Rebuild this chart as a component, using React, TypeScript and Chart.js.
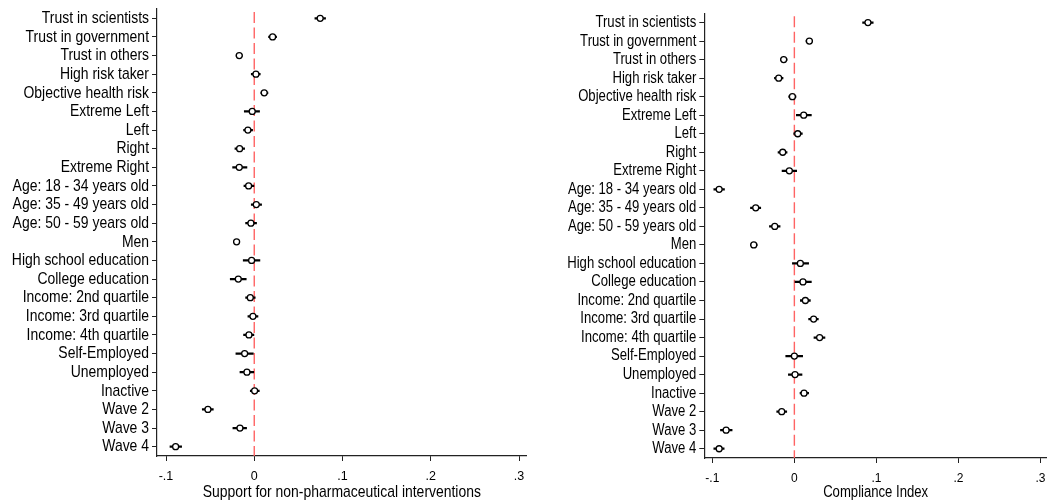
import React, { useEffect, useRef } from "react";
import { Chart, registerables } from "chart.js";

Chart.register(...registerables);

const categories = [
  "Trust in scientists",
  "Trust in government",
  "Trust in others",
  "High risk taker",
  "Objective health risk",
  "Extreme Left",
  "Left",
  "Right",
  "Extreme Right",
  "Age: 18 - 34 years old",
  "Age: 35 - 49 years old",
  "Age: 50 - 59 years old",
  "Men",
  "High school education",
  "College education",
  "Income: 2nd quartile",
  "Income: 3rd quartile",
  "Income: 4th quartile",
  "Self-Employed",
  "Unemployed",
  "Inactive",
  "Wave 2",
  "Wave 3",
  "Wave 4",
];

// Support for non-pharmaceutical interventions
const npiEst = [0.0747, 0.0208, -0.017, 0.0019, 0.0113, -0.0023, -0.0072, -0.0166, -0.017, -0.0064, 0.0023, -0.0038, -0.02, -0.003, -0.0181, -0.0045, -0.0015, -0.006, -0.0109, -0.0083, 0.0004, -0.0525, -0.0162, -0.0891];
const npiLo = [0.0687, 0.0162, -0.0205, -0.0034, 0.0075, -0.0113, -0.0121, -0.0219, -0.0245, -0.0117, -0.0034, -0.0098, -0.0235, -0.0125, -0.0272, -0.0098, -0.0072, -0.0121, -0.0208, -0.0162, -0.0045, -0.0589, -0.0242, -0.0955];
const npiHi = [0.0808, 0.0253, -0.0135, 0.0068, 0.0155, 0.006, -0.0019, -0.0109, -0.0083, -0.0004, 0.0083, 0.0026, -0.0165, 0.0064, -0.0091, 0.0011, 0.0042, -0.0004, -0.0011, 0.0, 0.0057, -0.0464, -0.0087, -0.0823];

// Compliance Index
const compEst = [0.0897, 0.0183, -0.013, -0.0191, -0.0024, 0.0114, 0.0041, -0.0142, -0.0061, -0.0917, -0.0471, -0.0239, -0.0495, 0.0073, 0.0105, 0.0134, 0.0235, 0.0308, 0.0, 0.0008, 0.0118, -0.0154, -0.0832, -0.0917];
const compLo = [0.0832, 0.0142, -0.017, -0.0243, -0.0069, 0.0024, -0.0008, -0.0199, -0.015, -0.0982, -0.0535, -0.0304, -0.0535, -0.0024, 0.0008, 0.0073, 0.0174, 0.0239, -0.0105, -0.0073, 0.0069, -0.0215, -0.0901, -0.0982];
const compHi = [0.0961, 0.0223, -0.0089, -0.0138, 0.002, 0.0207, 0.0097, -0.0089, 0.0028, -0.0852, -0.041, -0.0174, -0.0454, 0.0174, 0.0207, 0.0195, 0.0292, 0.0373, 0.0101, 0.0093, 0.0174, -0.0093, -0.0759, -0.0856];

const xTickValues = [-0.1, 0, 0.1, 0.2, 0.3];
const xTickLabels = ["-.1", "0", ".1", ".2", ".3"];

const FONT = "'Liberation Sans', Arial, sans-serif";
const NARROW = 0.82;

const zeroLine = {
  id: "zeroLine",
  beforeDatasetsDraw(chart: any) {
    const x = chart.scales.x;
    const area = chart.chartArea;
    const px = x.getPixelForValue(0);
    const ctx = chart.ctx;
    ctx.save();
    ctx.strokeStyle = "#ff6464";
    ctx.lineWidth = 1.4;
    ctx.setLineDash([11, 4.5]);
    ctx.beginPath();
    ctx.moveTo(px, area.top + 3);
    ctx.lineTo(px, area.bottom);
    ctx.stroke();
    ctx.restore();
  },
};

type PanelProps = {
  est: number[];
  lo: number[];
  hi: number[];
  title: string;
  left: number;
  width: number;
  padTop: number;
  padRight: number;
  yWidth: number;
  xHeight: number;
  labelSize: number;
  tickSize: number;
  titleSize: number;
  titleY: number;
  xMin: number;
  xMax: number;
};

function Panel(p: PanelProps) {
  const ref = useRef<HTMLCanvasElement | null>(null);
  useEffect(() => {
    if (!ref.current) return;
    const narrowText = {
      id: "narrowText",
      afterDraw(chart: any) {
        const ctx = chart.ctx;
        const ys = chart.scales.y;
        const area = chart.chartArea;
        ctx.save();
        ctx.fillStyle = "#000";
        ctx.textAlign = "right";
        ctx.textBaseline = "middle";
        ctx.font = `${p.labelSize}px ${FONT}`;
        const xr = ys.right - 5 - 3;
        const labels = chart.data.labels as string[];
        labels.forEach((lab, i) => {
          const y = ys.getPixelForTick(i);
          ctx.save();
          ctx.translate(xr, y);
          ctx.scale(NARROW, 1);
          ctx.fillText(lab, 0, 0);
          ctx.restore();
        });
        ctx.font = `${p.titleSize}px ${FONT}`;
        ctx.textAlign = "center";
        ctx.save();
        ctx.translate((area.left + area.right) / 2, p.titleY);
        ctx.scale(NARROW, 1);
        ctx.fillText(p.title, 0, 0);
        ctx.restore();
        ctx.restore();
      },
    };
    const chart = new Chart(ref.current, {
      type: "bar",
      data: {
        labels: categories,
        datasets: [
          {
            type: "bar",
            data: p.lo.map((l, i) => [l, p.hi[i]]) as any,
            backgroundColor: "#000",
            borderWidth: 0,
            barThickness: 1.6,
            grouped: false,
            order: 2,
          } as any,
          {
            type: "line",
            indexAxis: "y",
            data: p.est,
            showLine: false,
            pointStyle: "circle",
            pointRadius: 3,
            pointBorderWidth: 1.3,
            pointBorderColor: "#000",
            pointBackgroundColor: "#fff",
            borderColor: "#000",
            backgroundColor: "#fff",
            order: 1,
          } as any,
        ],
      },
      options: {
        indexAxis: "y",
        animation: false,
        responsive: false,
        maintainAspectRatio: false,
        layout: { padding: { top: p.padTop, right: p.padRight, left: 0, bottom: 0 } },
        plugins: { legend: { display: false }, tooltip: { enabled: false } },
        scales: {
          x: {
            type: "linear",
            min: p.xMin,
            max: p.xMax,
            afterBuildTicks: (s: any) => {
              s.ticks = xTickValues.map((v) => ({ value: v }));
            },
            afterFit: (s: any) => {
              s.height = p.xHeight;
              s.paddingLeft = 0;
              s.paddingRight = 0;
            },
            ticks: {
              callback: (_v: any, i: number) => xTickLabels[i],
              font: { family: FONT, size: p.tickSize },
              color: "#000",
              padding: 8,
              maxRotation: 0,
              autoSkip: false,
            },
            grid: { display: true, drawOnChartArea: false, drawTicks: true, tickLength: 5, color: "#222", lineWidth: 1 },
            border: { display: true, color: "#222", width: 1.2 },
            title: { display: false },
          },
          y: {
            type: "category",
            offset: true,
            afterFit: (s: any) => {
              s.width = p.yWidth;
              s.paddingTop = 0;
              s.paddingBottom = 0;
            },
            ticks: { display: false, autoSkip: false },
            grid: { display: true, drawOnChartArea: false, drawTicks: true, tickLength: 5, offset: false, color: "#222", lineWidth: 1 },
            border: { display: true, color: "#222", width: 1.2 },
          },
        },
      },
      plugins: [zeroLine, narrowText],
    });
    return () => chart.destroy();
  }, []);
  return (
    <canvas
      ref={ref}
      width={p.width}
      height={504}
      style={{ position: "absolute", left: p.left, top: 0, width: p.width, height: 504 }}
    />
  );
}

export default function App() {
  return (
    <div style={{ position: "fixed", left: 0, top: 0, width: 1047, height: 504, overflow: "hidden", background: "#fff" }}>
      <Panel
        est={npiEst}
        lo={npiLo}
        hi={npiHi}
        title="Support for non-pharmaceutical interventions"
        left={0}
        width={540}
        padTop={9}
        padRight={13.3}
        yWidth={157}
        xHeight={48}
        labelSize={17}
        tickSize={12.5}
        titleSize={17}
        titleY={492}
        xMin={-0.1102}
        xMax={0.3087}
      />
      <Panel
        est={compEst}
        lo={compLo}
        hi={compHi}
        title="Compliance Index"
        left={540}
        width={515}
        padTop={13.3}
        padRight={8}
        yWidth={164.3}
        xHeight={46}
        labelSize={16}
        tickSize={12}
        titleSize={16}
        titleY={493}
        xMin={-0.1098}
        xMax={0.308}
      />
    </div>
  );
}
